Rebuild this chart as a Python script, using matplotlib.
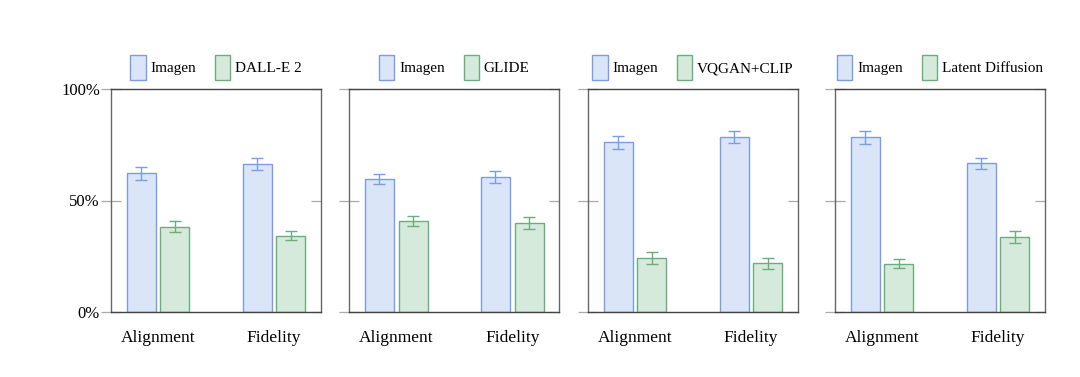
import matplotlib
matplotlib.use("Agg")
import matplotlib.pyplot as plt
import numpy as np

plt.rcParams['font.family'] = ['Liberation Serif', 'DejaVu Serif']

categories = ["Alignment", "Fidelity"]
competitors = ["DALL-E 2", "GLIDE", "VQGAN+CLIP", "Latent Diffusion"]
imagen_vals = [[62.2, 66.2], [59.5, 60.5], [76.1, 78.6], [78.3, 66.7]]
imagen_err = [[2.9, 2.7], [2.2, 2.6], [3.0, 2.7], [2.9, 2.5]]
other_vals = [[38.3, 34.2], [40.7, 39.9], [24.1, 21.8], [21.7, 33.6]]
other_err = [[2.6, 2.0], [2.2, 2.5], [2.6, 2.5], [2.0, 2.6]]
yticks = [0, 50, 100]
ytick_labels = ["0%", "50%", "100%"]

blue_fill, blue_edge = "#dae5f8", "#7b9de2"
green_fill, green_edge = "#d5eadb", "#6aad7f"

fig = plt.figure(figsize=(10.8, 3.77), dpi=100)
lefts = [111, 349.3, 588, 835]
W, H = 1080, 377
ax_w = 210
ax_bottom = 312
ax_top = 89

x = np.arange(len(categories))
bw = 0.25
off = 0.145

for i, comp in enumerate(competitors):
    ax = fig.add_axes([lefts[i] / W, (H - ax_bottom) / H, ax_w / W, (ax_bottom - ax_top) / H])
    ax.bar(x - off, imagen_vals[i], bw, yerr=imagen_err[i], color=blue_fill,
           edgecolor=blue_edge, linewidth=1.0, label="Imagen",
           error_kw=dict(ecolor=blue_edge, elinewidth=1.0, capsize=4, capthick=1.0))
    ax.bar(x + off, other_vals[i], bw, yerr=other_err[i], color=green_fill,
           edgecolor=green_edge, linewidth=1.0, label=comp,
           error_kw=dict(ecolor=green_edge, elinewidth=1.0, capsize=4, capthick=1.0))
    ax.set_xlim(-0.405, 1.405)
    ax.set_ylim(0, 100)
    ax.set_xticks(x)
    ax.set_xticklabels(categories, fontsize=12.5)
    ax.tick_params(axis='x', length=0, pad=13)
    ax.set_yticks(yticks)
    if i == 0:
        ax.set_yticklabels(ytick_labels, fontsize=12)
    else:
        ax.set_yticklabels([])
    ax.tick_params(axis='y', which='both', direction='inout', length=14, color='#aaaaaa',
                   width=0.9, pad=1, right=False)
    for t in ax.yaxis.get_major_ticks():
        t.tick2line.set_visible(True)
        t.tick2line.set_markersize(7)
        t.tick2line.set_marker(matplotlib.lines.TICKLEFT)
        t.tick2line.set_color('#aaaaaa')
    for name, s in ax.spines.items():
        s.set_color('#444444' if name in ('top', 'bottom') else '#666666')
        s.set_linewidth(1.0)
    ax.legend(loc='lower center', bbox_to_anchor=(0.5, 1.0), ncol=2, frameon=False,
              fontsize=11, handlelength=1.0, handleheight=2.1, handletextpad=0.3,
              columnspacing=1.25, borderaxespad=0.2)

fig.savefig("out.png", dpi=100)
